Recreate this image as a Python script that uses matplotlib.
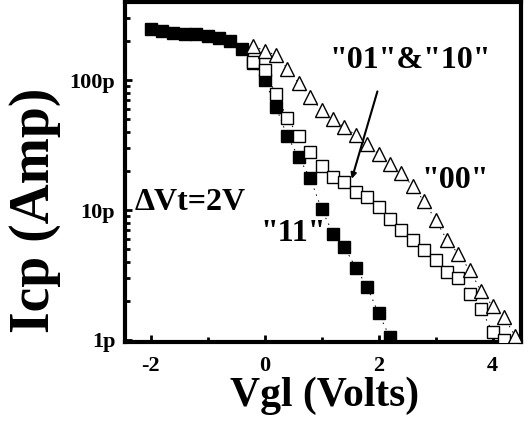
import numpy as np
import matplotlib.pyplot as plt
from matplotlib.ticker import FixedLocator, NullFormatter

# Vgl (Volts) et Icp (pA)
v_11 = [-2.0, -1.8, -1.6, -1.4, -1.2, -1.0, -0.8, -0.6, -0.4, -0.2,
        0.0, 0.2, 0.4, 0.6, 0.8, 1.0, 1.2, 1.4, 1.6, 1.8, 2.0, 2.2]
i_11 = [250, 238, 231, 227, 225, 219, 210, 200, 175, 135,
        100, 62, 37, 25.5, 17.6, 10.2, 6.6, 5.2, 3.6, 2.57, 1.6, 1.05]

v_01 = [-0.2, 0.0, 0.2, 0.4, 0.6, 0.8, 1.0, 1.2, 1.4, 1.6, 1.8, 2.0,
        2.2, 2.4, 2.6, 2.8, 3.0, 3.2, 3.4, 3.6, 3.8, 4.0, 4.2]
i_01 = [137, 119, 78, 51, 37, 27.9, 21.8, 18, 16.5, 13.8, 12.6, 10.6,
        8.6, 7.0, 5.9, 4.9, 4.1, 3.35, 3.0, 2.26, 1.73, 1.15, 1.0]

v_00 = [-0.2, 0.0, 0.2, 0.4, 0.6, 0.8, 1.0, 1.2, 1.4, 1.6, 1.8, 2.0,
        2.2, 2.4, 2.6, 2.8, 3.0, 3.2, 3.4, 3.6, 3.8, 4.0, 4.2, 4.4]
i_00 = [183, 169, 156, 123, 95, 74, 59, 50, 43.5, 37.8, 32.2, 27,
        22.6, 19.2, 15.3, 11.7, 8.4, 5.9, 4.6, 3.45, 2.38, 1.83, 1.5, 1.07]

y_ticks = [1e-12, 1e-11, 1e-10]
y_labels = ['1p', '10p', '100p']
x_ticks = [-2, 0, 2, 4]
x_labels = ['-2', '0', '2', '4']

pA = 1e-12
serif = 'Liberation Serif'

fig = plt.figure(figsize=(5.29, 4.22), dpi=100)
ax = fig.add_axes([125 / 529, 80 / 422, 396 / 529, 340 / 422])

dash = (0, (1.5, 5))
ax.plot(v_11, np.array(i_11) * pA, color='black', lw=0.7, ls=dash,
        marker='s', ms=8, mfc='black', mec='black', zorder=2)
ax.plot(v_01, np.array(i_01) * pA, color='black', lw=0.7, ls=dash,
        marker='s', ms=8, mfc='white', mec='black', mew=1.0, zorder=3)
ax.plot(v_00, np.array(i_00) * pA, color='black', lw=0.7, ls=dash,
        marker='^', ms=10, mfc='white', mec='black', mew=1.0, zorder=4)

ax.set_yscale('log')
ax.set_xlim(-2.45, 4.5)
ax.set_ylim(0.965e-12, 4.0e-10)

ax.yaxis.set_major_locator(FixedLocator(y_ticks))
ax.set_yticklabels(y_labels)
minor_y = [m * d for d in [1e-12, 1e-11, 1e-10] for m in range(2, 10)]
ax.yaxis.set_minor_locator(FixedLocator(minor_y))
ax.yaxis.set_minor_formatter(NullFormatter())
ax.set_xticks(x_ticks)
ax.set_xticklabels(x_labels)
ax.set_xticks([-1, 1, 3], minor=True)

ax.tick_params(which='both', direction='in', top=False, right=False, width=2)
ax.tick_params(which='major', length=5)
ax.tick_params(axis='x', which='major', pad=10)
ax.tick_params(axis='y', which='major', pad=7)
ax.tick_params(which='minor', length=3.5)
for lab in ax.get_xticklabels() + ax.get_yticklabels():
    lab.set_fontfamily(serif)
    lab.set_fontweight('bold')
    lab.set_fontsize(16)

for s in ax.spines.values():
    s.set_linewidth(3)

fig.text(325 / 529, 1 - 396 / 422, 'Vgl (Volts)', fontfamily=serif, fontweight='bold',
         fontsize=30, ha='center', va='center')
fig.text(35 / 529, 1 - 210 / 422, 'Icp (Amp)', fontfamily=serif, fontweight='bold',
         fontsize=40, ha='center', va='center', rotation=90)

txt = dict(fontfamily=serif, fontweight='bold', fontsize=23, ha='center', va='center')
ax.text(2.56, 1.43e-10, '"01"&"10"', **txt)
ax.text(3.35, 1.7e-11, '"00"', **txt)
ax.text(0.51, 6.6e-12, '"11"', **txt)
ax.text(-1.3, 1.15e-11, 'ΔVt=2V', **txt)

ax.annotate('', xy=(1.53, 17.4 * pA), xytext=(1.98, 82 * pA),
            arrowprops=dict(arrowstyle='-|>', color='black', lw=1.5,
                            mutation_scale=8, shrinkA=0, shrinkB=0))

fig.savefig('out.png', dpi=100)
